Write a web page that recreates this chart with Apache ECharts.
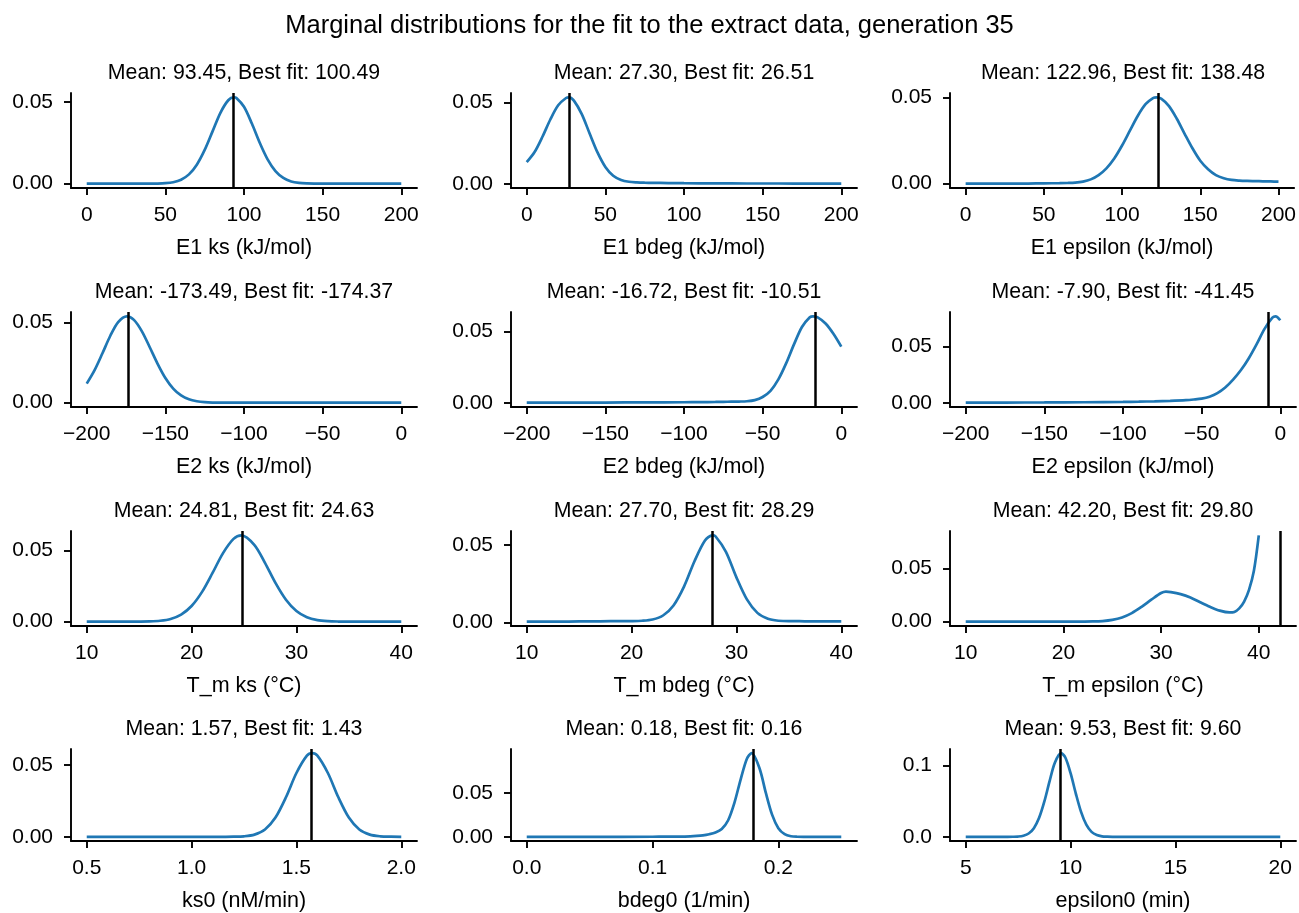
<!DOCTYPE html>
<html>
<head>
<meta charset="utf-8">
<script src="https://cdn.jsdelivr.net/npm/echarts@6/dist/echarts.min.js"></script>
<style>
html,body{margin:0;padding:0;background:#fff;}
#c{width:1299px;height:913px;}
</style>
</head>
<body>
<div id="c"></div>
<script>
// ---------------- data ----------------
const mainTitle = 'Marginal distributions for the fit to the extract data, generation 35';
const paramLabels = ['E1 ks (kJ/mol)','E1 bdeg (kJ/mol)','E1 epsilon (kJ/mol)',
  'E2 ks (kJ/mol)','E2 bdeg (kJ/mol)','E2 epsilon (kJ/mol)',
  'T_m ks (°C)','T_m bdeg (°C)','T_m epsilon (°C)',
  'ks0 (nM/min)','bdeg0 (1/min)','epsilon0 (min)'];
const means    = [93.45, 27.30, 122.96, -173.49, -16.72, -7.90, 24.81, 27.70, 42.20, 1.57, 0.1787, 9.53];
const bestFits = [100.49, 26.51, 138.48, -174.37, -10.51, -41.45, 24.63, 28.29, 29.80, 1.43, 0.16, 9.60];

const ticksE1 = [0, 50, 100, 150, 200];
const ticksE2 = [-200, -150, -100, -50, 0];
const ticksTm = [10, 20, 30, 40];
const ticksKs0 = [0.5, 1.0, 1.5, 2.0];
const ticksBdeg0 = [0.0, 0.1, 0.2];
const ticksEps0 = [5, 10, 15, 20];
const yTicksSmall = [0, 0.05];
const yTicksLarge = [0, 0.1];

const e1ksX = [0,10,20,30,40,45,50,55,60,65,70,75,80,85,90,93.5,95,100,105,110,115,120,125,130,135,140,145,150,160,170,180,190,200];
const e1ksY = [0,0,0,0.00001,0.00002,0.00008,0.0003,0.00091,0.00244,0.00571,0.01165,0.0207,0.0321,0.0435,0.0512,0.0530,0.0527,0.0472,0.0369,0.0251,0.0149,0.0077,0.0035,0.00137,0.00047,0.00014,0.00004,0.00002,0.00001,0.00001,0,0,0];

const e1bdegX = [0,5,10,15,20,25,27,30,35,40,45,50,55,60,65,70,75,80,90,100,120,140,160,180,200];
const e1bdegY = [0.0133,0.0195,0.0289,0.0395,0.0482,0.0527,0.0531,0.0511,0.0428,0.0309,0.0193,0.0104,0.0050,0.0024,0.0013,0.0009,0.0007,0.0006,0.0005,0.0004,0.0003,0.0002,0.0002,0.0001,0.0001];

const e1epsX = [0,20,40,50,60,65,70,75,80,85,90,95,100,105,110,115,120,122,125,130,135,140,145,150,155,160,165,170,175,180,185,190,195,200];
const e1epsY = [0.00001,0.00003,0.0001,0.0002,0.0003,0.0004,0.0006,0.0012,0.0025,0.0050,0.0089,0.0146,0.0221,0.0307,0.0392,0.0460,0.0497,0.0500,0.0492,0.0449,0.0376,0.0289,0.0205,0.0133,0.0084,0.0050,0.0032,0.0022,0.0018,0.0016,0.0015,0.0014,0.0013,0.0012];

const e2ksX = [-200,-195,-190,-185,-180,-174.5,-170,-165,-160,-155,-150,-145,-140,-135,-130,-125,-120,-110,-100,-75,-50,-25,0];
const e2ksY = [0.0119,0.0203,0.0308,0.0417,0.0502,0.0538,0.0516,0.0446,0.0347,0.0244,0.0154,0.0088,0.0045,0.0021,0.0009,0.0003,0.0001,0.00005,0.00003,0.00002,0.00001,0.00001,0.00001];

const e2bdegX = [-200,-175,-150,-125,-100,-90,-80,-75,-70,-65,-60,-55,-50,-45,-40,-35,-30,-25,-20,-18,-15,-10,-5,0];
const e2bdegY = [0.0001,0.0001,0.0002,0.0003,0.0004,0.0005,0.0006,0.0007,0.0008,0.0009,0.0011,0.0019,0.0041,0.0084,0.0164,0.0278,0.0411,0.0531,0.0599,0.0606,0.0599,0.0556,0.0484,0.0394];

const e2epsX = [-200,-175,-150,-125,-100,-90,-80,-70,-60,-55,-50,-45,-40,-35,-30,-25,-20,-15,-10,-5,-3,0];
const e2epsY = [0.0001,0.0002,0.0003,0.0005,0.0008,0.0010,0.0013,0.0017,0.0023,0.0029,0.0037,0.0054,0.0085,0.0135,0.0205,0.0290,0.0395,0.0520,0.0655,0.0755,0.0766,0.0731];

const tmksX = [10,12,14,15,16,17,18,19,20,21,22,23,24,24.75,26,27,28,29,30,31,32,33,34,35,36,38,40];
const tmksY = [0,0,0.00001,0.00005,0.00018,0.00064,0.0019,0.0050,0.0110,0.0209,0.0342,0.0481,0.0581,0.0606,0.0538,0.0413,0.0272,0.0154,0.0075,0.0031,0.0011,0.00035,0.0001,0.00003,0.00001,0,0];

const tmbdegX = [10,12,14,16,18,20,21,22,23,24,25,26,27,27.7,28,29,30,31,32,33,34,35,36,37,38,39,40];
const tmbdegY = [0.0004,0.0005,0.0005,0.0006,0.0007,0.0008,0.0010,0.0018,0.0044,0.0109,0.0231,0.0395,0.0529,0.0563,0.0557,0.0456,0.0291,0.0148,0.0061,0.0023,0.0010,0.0007,0.0007,0.0006,0.0006,0.0006,0.0006];

const tmepsX = [10,14,18,20,22,23,24,25,26,27,28,29,30,30.5,31,32,33,34,35,36,37,37.5,38,38.5,39,39.5,40];
const tmepsY = [0,0,0,0.00002,0.0001,0.0002,0.0006,0.0017,0.0040,0.0081,0.0140,0.0207,0.0270,0.0283,0.0279,0.0260,0.0228,0.0183,0.0140,0.0104,0.0087,0.0092,0.0125,0.0190,0.0300,0.0480,0.0814];

const ks0X = [0.5,0.75,1.0,1.1,1.15,1.2,1.25,1.3,1.35,1.4,1.45,1.5,1.55,1.575,1.6,1.65,1.7,1.75,1.8,1.85,1.9,1.95,2.0];
const ks0Y = [0,0,0,0,0.00002,0.00007,0.00036,0.00153,0.0051,0.0134,0.0275,0.0444,0.0565,0.0582,0.0565,0.0444,0.0275,0.0134,0.0051,0.00153,0.00036,0.00007,0.00001];

const bdeg0X = [0,0.05,0.1,0.11,0.12,0.13,0.135,0.14,0.145,0.15,0.155,0.16,0.165,0.17,0.175,0.1787,0.185,0.19,0.195,0.2,0.205,0.21,0.215,0.22,0.23,0.25];
const bdeg0Y = [0,0,0.0001,0.0002,0.0003,0.0006,0.0010,0.0017,0.0030,0.0050,0.0090,0.0186,0.0385,0.0654,0.0892,0.0955,0.0783,0.0504,0.0253,0.0099,0.0030,0.0007,0.0001,0,0,0];

const eps0X = [5,6,7,7.25,7.5,7.75,8,8.25,8.5,8.75,9,9.25,9.55,9.75,10,10.25,10.5,10.75,11,11.25,11.5,11.75,12,13,15,17.5,20];
const eps0Y = [0,0,0.00002,0.0001,0.0004,0.0015,0.0046,0.0121,0.0265,0.0494,0.0778,0.1035,0.1169,0.1108,0.0890,0.0605,0.0348,0.0169,0.0069,0.0024,0.0007,0.0002,0.00005,0,0,0,0];

// ---------------- build ----------------
const curvesX = [e1ksX,e1bdegX,e1epsX,e2ksX,e2bdegX,e2epsX,tmksX,tmbdegX,tmepsX,ks0X,bdeg0X,eps0X];
const curvesY = [e1ksY,e1bdegY,e1epsY,e2ksY,e2bdegY,e2epsY,tmksY,tmbdegY,tmepsY,ks0Y,bdeg0Y,eps0Y];
const xTicks = [ticksE1,ticksE1,ticksE1,ticksE2,ticksE2,ticksE2,ticksTm,ticksTm,ticksTm,ticksKs0,ticksBdeg0,ticksEps0];
const xDec = [0,0,0,0,0,0,0,0,0,1,1,0];
const yTicks = [yTicksSmall,yTicksSmall,yTicksSmall,yTicksSmall,yTicksSmall,yTicksSmall,yTicksSmall,yTicksSmall,yTicksSmall,yTicksSmall,yTicksSmall,yTicksLarge];
const yDec = [2,2,2,2,2,2,2,2,2,2,2,1];

const FONT = '"Liberation Sans", Arial, Helvetica, sans-serif';
const colLeft = [71, 511, 950];
const rowTop = [93, 312, 531, 749];
const W = 346, H = 95;
const fmt = (v, d) => (v < 0 ? '\u2212' : '') + Math.abs(v).toFixed(d);

const grids = [], xAxes = [], yAxes = [], series = [];
const titles = [{
  text: mainTitle, left: 649.5, top: 13, textAlign: 'center', padding: 0,
  textStyle: {fontSize: 25.5, fontWeight: 'normal', color: '#000', fontFamily: FONT}
}];

for (let i = 0; i < 12; i++) {
  const r = Math.floor(i / 3), c = i % 3;
  grids.push({left: colLeft[c], top: rowTop[r], width: W, height: H, containLabel: false});
  const xs = curvesX[i], ys = curvesY[i];
  const xlo0 = Math.min(Math.min(...xs), means[i]);
  const xhi0 = Math.max(Math.max(...xs), means[i]);
  const xr = xhi0 - xlo0;
  const ylo0 = Math.min(...ys), yhi0 = Math.max(...ys);
  const yr = yhi0 - ylo0;
  const xd = xDec[i], yd = yDec[i];
  xAxes.push({
    gridIndex: i, type: 'value',
    min: xlo0 - 0.05 * xr, max: xhi0 + 0.05 * xr,
    axisLine: {show: true, onZero: false, lineStyle: {color: '#000', width: 1.9}},
    axisTick: {show: true, inside: false, length: 7, lineStyle: {color: '#000', width: 1.9}, customValues: xTicks[i]},
    axisLabel: {show: true, customValues: xTicks[i], formatter: v => fmt(v, xd), color: '#000', fontSize: 21, fontFamily: FONT, margin: 17},
    splitLine: {show: false},
    name: paramLabels[i], nameLocation: 'middle', nameGap: 49,
    nameTextStyle: {color: '#000', fontSize: 21.5, fontFamily: FONT}
  });
  yAxes.push({
    gridIndex: i, type: 'value',
    min: ylo0 - 0.05 * yr, max: yhi0 + 0.05 * yr,
    axisLine: {show: true, onZero: false, lineStyle: {color: '#000', width: 1.9}},
    axisTick: {show: true, inside: false, length: 7, lineStyle: {color: '#000', width: 1.9}, customValues: yTicks[i]},
    axisLabel: {show: true, customValues: yTicks[i], formatter: v => fmt(v, yd), color: '#000', fontSize: 21, fontFamily: FONT, margin: 18},
    splitLine: {show: false}
  });
  series.push({
    type: 'line', xAxisIndex: i, yAxisIndex: i,
    data: xs.map((x, k) => [x, ys[k]]),
    showSymbol: false, symbol: 'none', smooth: 0.3,
    lineStyle: {color: '#1f77b4', width: 2.7}, silent: true,
    markLine: {
      silent: true, symbol: ['none', 'none'], label: {show: false},
      lineStyle: {color: '#000', width: 2.5, type: 'solid'},
      emphasis: {disabled: true},
      data: [{xAxis: means[i]}]
    }
  });
  titles.push({
    text: 'Mean: ' + means[i].toFixed(2) + ', Best fit: ' + bestFits[i].toFixed(2),
    left: colLeft[c] + W / 2, top: rowTop[r] - 30, textAlign: 'center', padding: 0,
    textStyle: {fontSize: 21.3, fontWeight: 'normal', color: '#000', fontFamily: FONT}
  });
}

const chart = echarts.init(document.getElementById('c'), null, {renderer: 'canvas', width: 1299, height: 913});
chart.setOption({
  animation: false,
  backgroundColor: '#fff',
  title: titles,
  grid: grids,
  xAxis: xAxes,
  yAxis: yAxes,
  series: series
});
</script>
</body>
</html>
